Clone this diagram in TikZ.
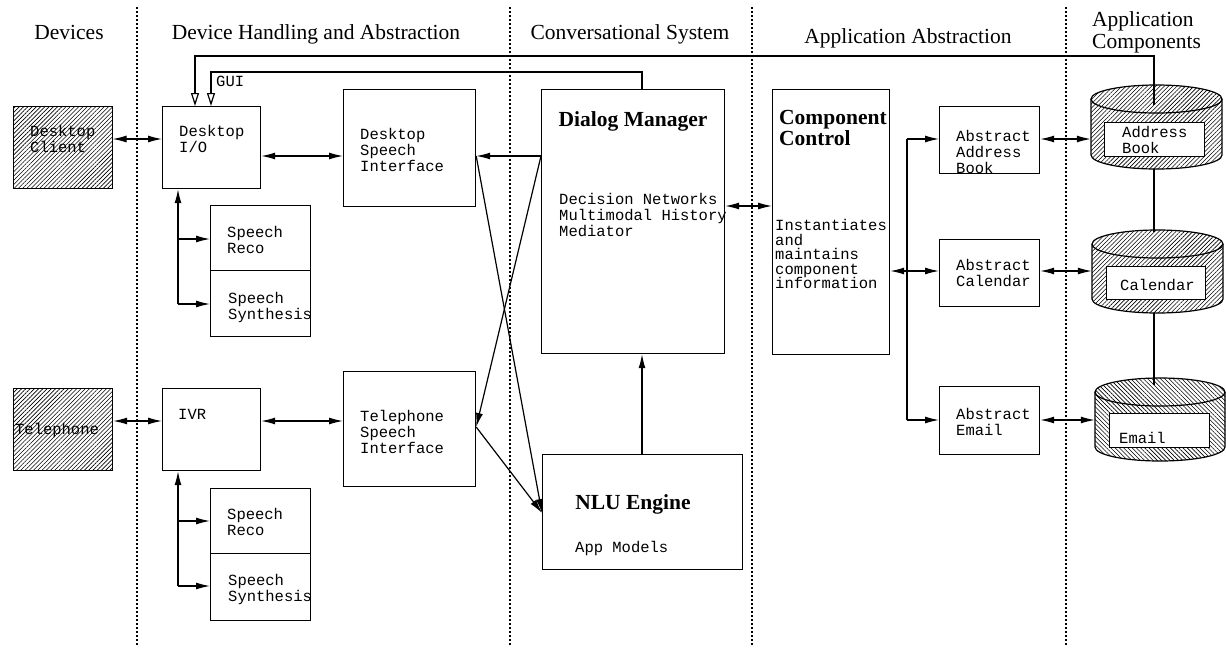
\documentclass[tikz,border=0pt]{standalone}
\usepackage{fontspec}
\setmainfont{Liberation Serif}
\newfontfamily\mono{Liberation Mono}
\usetikzlibrary{arrows.meta,patterns.meta,calc}
\newcommand\drawcyl[6]{%
  \fill[pattern={Lines[angle=#6,distance=3pt,line width=.6pt]}] ({#2-#3},#4) -- ({#2-#3},#5) arc[start angle=180,end angle=360,x radius=#3pt,y radius=14pt] -- ({#2+#3},#4) arc[start angle=0,end angle=180,x radius=#3pt,y radius=14pt] -- cycle;
  \draw[conn] (#2,#4) ellipse[x radius=#3pt,y radius=14pt];
  \draw[conn] ({#2-#3},#4) -- ({#2-#3},#5) arc[start angle=180,end angle=360,x radius=#3pt,y radius=14pt] -- ({#2+#3},#4);
  \node[inner sep=0pt, minimum width={2*#3}, minimum height={#5-#4+28}] (#1) at (#2,{(#4+#5)/2}) {};
}
\begin{document}
\begin{tikzpicture}[x=1pt,y=-1pt,
  conn/.style={line width=1.2pt},
  box/.style={draw, line width=1.2pt, inner sep=0pt, anchor=north west},
  hbox/.style={box, pattern={Lines[angle=45,distance=3pt,line width=.6pt]}},
  ibox/.style={box, fill=white},
  mt/.style={anchor=north west, inner sep=0pt, align=left, font=\mono\fontsize{15.5}{16}\selectfont},
  mtc/.style={mt, font=\mono\fontsize{15.5}{14.6}\selectfont},
  hd/.style={anchor=base, inner sep=0pt, font=\fontsize{21.5}{20}\selectfont},
  ttl/.style={inner sep=0pt, font=\bfseries\fontsize{21.5}{21}\selectfont},
  sep/.style={line width=1.2pt, dash pattern=on 2pt off 2pt},
  arr/.style={conn, -{Latex[length=14pt,width=7pt]}},
  dbl/.style={conn, {Latex[length=14pt,width=7pt]}-{Latex[length=14pt,width=7pt]}},
  oarr/.style={conn, -{Triangle[open,length=13pt,width=8pt]}}]
\useasboundingbox (0,0) rectangle (1226,648);

% separators
\foreach \x/\n in {137/s1,510/s2,752/s3,1066/s4}{
  \coordinate (\n a) at (\x,7); \coordinate (\n b) at (\x,645);
  \draw[sep] (\n a) -- (\n b);
}

% headers
\node[hd] (hDev) at (69,39) {Devices};
\node[hd] (hDHA) at (316,39) {Device Handling and Abstraction};
\node[hd] (hCS) at (630,39) {Conversational System};
\node[hd] (hAA) at (908,43) {Application Abstraction};
\node[anchor=north west, inner sep=0pt, align=left, font=\fontsize{21.5}{22}\selectfont] (hAC) at (1092,11) {Application\\Components};

% boxes
\node[hbox, minimum width=99, minimum height=82] (DC) at (13,106) {};
\node[box, minimum width=98, minimum height=82] (DIO) at (162,106) {};
\node[box, minimum width=100, minimum height=65] (SR1) at (210,205) {};
\node[box, minimum width=100, minimum height=66] (SS1) at (210,270) {};
\node[box, minimum width=132, minimum height=117] (DSI) at (343,89) {};
\node[box, minimum width=183, minimum height=264] (DM) at (541,89) {};
\node[hbox, minimum width=99, minimum height=82] (TEL) at (13,388) {};
\node[box, minimum width=98, minimum height=82] (IVR) at (162,388) {};
\node[box, minimum width=100, minimum height=65] (SR2) at (210,488) {};
\node[box, minimum width=100, minimum height=67] (SS2) at (210,553) {};
\node[box, minimum width=132, minimum height=115] (TSI) at (343,371) {};
\node[box, minimum width=200, minimum height=115] (NLU) at (542,454) {};
\node[box, minimum width=117, minimum height=265] (CC) at (772,89) {};
\node[box, minimum width=100, minimum height=67] (AAB) at (939,106) {};
\node[box, minimum width=100, minimum height=67] (AC) at (939,239) {};
\node[box, minimum width=100, minimum height=68] (AE) at (939,386) {};

% cylinders
\drawcyl{cyl1}{1156.5}{65.5}{99}{155}{45}
\drawcyl{cyl2}{1157.5}{65.5}{244}{299}{45}
\drawcyl{cyl3}{1160}{65}{392}{447}{-45}
\node[ibox, minimum width=100, minimum height=34] (ABk) at (1104,122) {};
\node[ibox, minimum width=99, minimum height=33] (Cal) at (1106,266) {};
\node[ibox, minimum width=100, minimum height=34] (Eml) at (1109,413) {};

% texts
\node[mt] (tDC) at (30,125) {Desktop\\Client};
\node[mt] (tDIO) at (179,125) {Desktop\\I/O};
\node[mt] (tSR1) at (227,226) {Speech\\Reco};
\node[mt] (tSS1) at (228,292) {Speech\\Synthesis};
\node[mt] (tDSI) at (360,128) {Desktop\\Speech\\Interface};
\node[ttl, anchor=base] (tDM) at (633,126) {Dialog Manager};
\node[mt] (tDMb) at (559,193) {Decision Networks\\Multimodal History\\Mediator};
\node[mt] (tTEL) at (15,423) {Telephone};
\node[mt] (tIVR) at (178,409) {IVR};
\node[mt] (tSR2) at (227,508) {Speech\\Reco};
\node[mt] (tSS2) at (228,574) {Speech\\Synthesis};
\node[mt] (tTSI) at (360,410) {Telephone\\Speech\\Interface};
\node[ttl, anchor=base] (tNLU) at (633,509) {NLU Engine};
\node[mt] (tNLUb) at (575,541) {App Models};
\node[ttl, anchor=north west, align=left] (tCC) at (779,110) {Component\\Control};
\node[mtc] (tCCb) at (775,219) {Instantiates\\and\\maintains\\component\\information};
\node[mt] (tAAB) at (956,130) {Abstract\\Address\\Book};
\node[mt] (tAC) at (956,259) {Abstract\\Calendar};
\node[mt] (tAE) at (956,408) {Abstract\\Email};
\node[mt] (tABk) at (1122,126) {Address\\Book};
\node[mt] (tCal) at (1120,279) {Calendar};
\node[mt] (tEml) at (1119,432) {Email};
\node[mt] (tGUI) at (216,76) {GUI};

% row / column coordinates
\coordinate (rA) at (0,139);
\coordinate (rB) at (0,156);
\coordinate (rC) at (0,206);
\coordinate (rD) at (0,271);
\coordinate (rE) at (0,421);
\coordinate (rE2) at (0,420);
\coordinate (rF) at (0,427);
\coordinate (rG) at (0,513);
\coordinate (cN) at (642,0);
\coordinate (cB) at (907,0);
\coordinate (cL) at (1154,0);
\coordinate (g1) at (195,56);
\coordinate (g2) at (211,72);
\coordinate (b1r) at (178,239);
\coordinate (b1s) at (178,304);
\coordinate (b2r) at (178,521);
\coordinate (b2s) at (178,586);

% device connectors
\draw[dbl] (DC.east |- rA) -- (DIO.west |- rA);
\draw[dbl] (DIO.east |- rB) -- (DSI.west |- rB);
\draw[dbl] (TEL.east |- rE) -- (IVR.west |- rE);
\draw[dbl] (IVR.east |- rE) -- (TSI.west |- rE);

% speech branches
\draw[arr] (b1s) -- (b1s |- DIO.south);
\draw[arr] (b1r) -- (SR1.west |- b1r);
\draw[arr] (b1s) -- (SS1.west |- b1s);
\draw[arr] (b2s) -- (b2s |- IVR.south);
\draw[arr] (b2r) -- (SR2.west |- b2r);
\draw[arr] (b2s) -- (SS2.west |- b2s);

% dialog connectors
\draw[arr] (DM.west |- rB) -- (DSI.east |- rB);
\draw[arr] (DSI.east |- rB) -- (NLU.west |- rG);
\draw[arr] (DM.west |- rB) -- (TSI.east |- rF);
\draw[arr] (TSI.east |- rF) -- (NLU.west |- rG);
\draw[arr] (cN |- NLU.north) -- (cN |- DM.south);
\draw[dbl] (DM.east |- rC) -- (CC.west |- rC);

% GUI lines
\draw[oarr] ([yshift=-20pt]cL |- cyl1.north) |- (g1) -- (g1 |- DIO.north);
\draw[oarr] (cN |- DM.north) |- (g2) -- (g2 |- DIO.north);

% application abstraction
\draw[dbl] (CC.east |- rD) -- (AC.west |- rD);
\draw[conn] (cB |- rA) -- (cB |- rE2);
\draw[arr] (cB |- rA) -- (AAB.west |- rA);
\draw[arr] (cB |- rE2) -- (AE.west |- rE2);
\draw[dbl] (AAB.east |- rA) -- (cyl1.west |- rA);
\draw[dbl] (AC.east |- rD) -- (cyl2.west |- rD);
\draw[dbl] (AE.east |- rE2) -- (cyl3.west |- rE2);

% cylinder links
\draw[conn] (cL |- cyl1.south) -- ([yshift=-2pt]cL |- cyl2.north);
\draw[conn] (cL |- cyl2.south) -- ([yshift=-7pt]cL |- cyl3.north);
\end{tikzpicture}
\end{document}
